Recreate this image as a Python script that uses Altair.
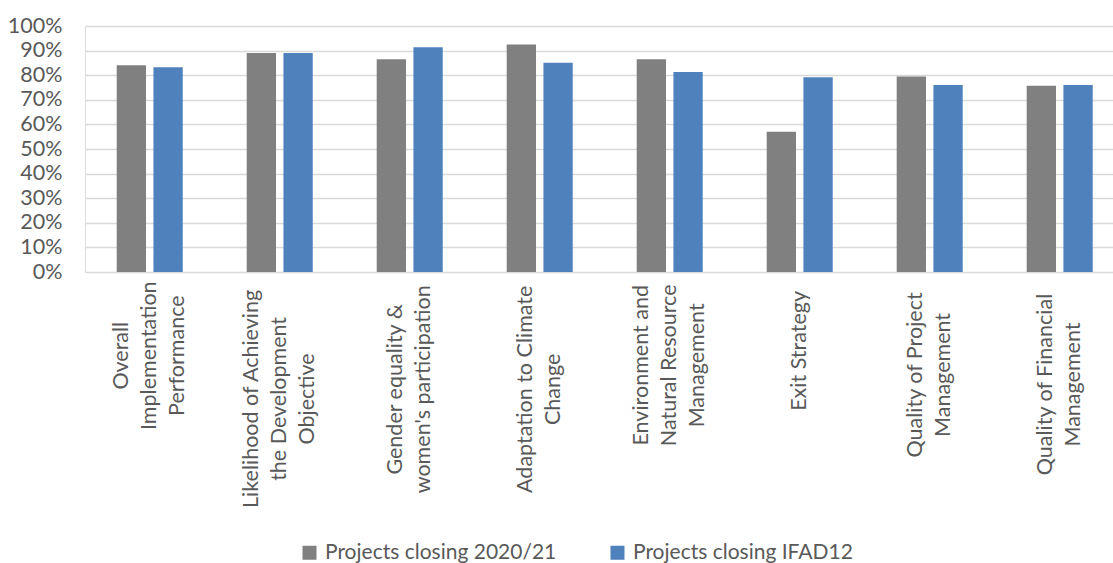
import altair as alt
import pandas as pd

categories = [
    "Overall|Implementation|Performance",
    "Likelihood of Achieving|the Development|Objective",
    "Gender equality &|women's participation",
    "Adaptation to Climate|Change",
    "Environment and|Natural Resource|Management",
    "Exit Strategy",
    "Quality of Project|Management",
    "Quality of Financial|Management",
]
series = ["Projects closing 2020/21", "Projects closing IFAD12"]
values_2020_21 = [0.84, 0.89, 0.865, 0.925, 0.865, 0.57, 0.795, 0.757]
values_ifad12 = [0.832, 0.89, 0.914, 0.851, 0.813, 0.792, 0.76, 0.76]
colors = ["#808080", "#4F81BD"]

rows = []
for c, a, b in zip(categories, values_2020_21, values_ifad12):
    rows.append({"category": c, "series": series[0], "value": a})
    rows.append({"category": c, "series": series[1], "value": b})
df = pd.DataFrame(rows)

FONT = "Lato"
TXT = "#595959"
CAT_SIZE = 21.5
LINE_H = 28
CHAR_W = 9.6

# centre each rotated label block: padding from half the longest line
pad_parts = []
for c in categories:
    longest = max(len(s) for s in c.split("|"))
    pad_parts.append(f'datum.value == "{c}" ? {16 + longest * CHAR_W / 2:.1f}')
pad_expr = " : ".join(pad_parts) + " : 16"
offset_expr = f"-(length(split(datum.value, '|')) - 1) * {LINE_H / 2}"

chart = alt.Chart(df).mark_bar().encode(
    x=alt.X(
        "category:N",
        sort=categories,
        scale=alt.Scale(paddingInner=0.492, paddingOuter=0.2, align=0.61),
        axis=alt.Axis(
            title=None,
            labelAngle=-90,
            labelAlign="center",
            labelBaseline="middle",
            labelExpr="split(datum.label, '|')",
            labelLineHeight=LINE_H,
            labelPadding=alt.ExprRef(pad_expr),
            labelOffset=alt.ExprRef(offset_expr),
            labelFont=FONT,
            labelFontSize=CAT_SIZE,
            labelColor=TXT,
            domain=False,
            ticks=False,
            labelLimit=400,
        ),
    ),
    xOffset=alt.XOffset(
        "series:N",
        sort=series,
        scale=alt.Scale(paddingInner=0.202, paddingOuter=0),
    ),
    y=alt.Y(
        "value:Q",
        scale=alt.Scale(domain=[0, 1], nice=False),
        axis=alt.Axis(
            title=None,
            format=".0%",
            values=[i / 10 for i in range(11)],
            labelFont=FONT,
            labelFontSize=21.5,
            labelColor=TXT,
            labelPadding=23,
            domain=False,
            ticks=False,
            gridColor="#D9D9D9",
            gridWidth=1.5,
        ),
    ),
    color=alt.Color(
        "series:N",
        sort=series,
        scale=alt.Scale(domain=series, range=colors),
        legend=alt.Legend(
            title=None,
            orient="none",
            direction="horizontal",
            legendX=214,
            legendY=516,
            symbolType="square",
            symbolSize=196,
            symbolStrokeWidth=0,
            labelFont=FONT,
            labelFontSize=21,
            labelColor=TXT,
            labelLimit=400,
            columnPadding=50,
            labelOffset=5,
        ),
    ),
).properties(
    width=1028,
    height=246,
    autosize=alt.AutoSizeParams(type="none"),
    padding={"left": 85, "top": 26, "right": 0, "bottom": 291},
).configure_view(stroke=None).configure(background="white")

chart.save("out.html", embed_options={"renderer": "svg", "actions": False})
